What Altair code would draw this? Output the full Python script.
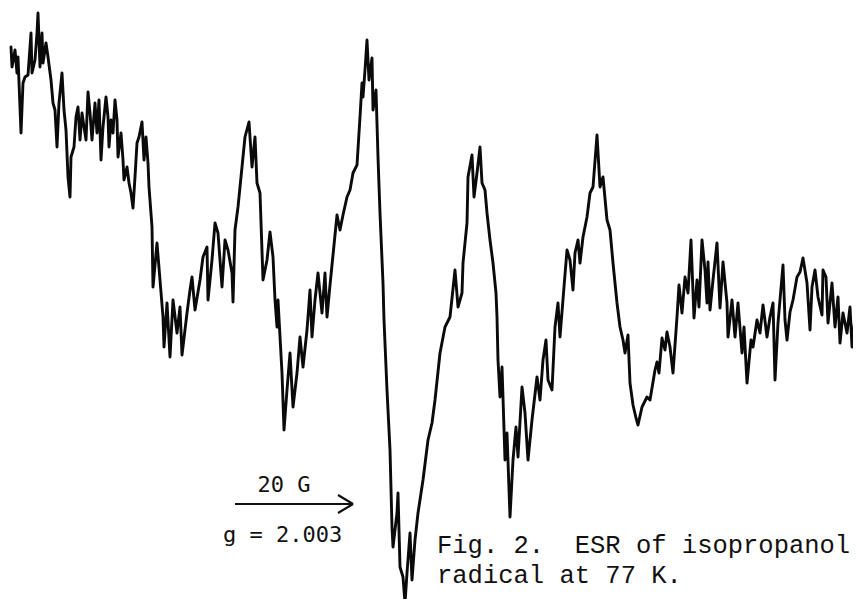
import altair as alt
import pandas as pd

# ESR trace (field position, signal level; picture units, y grows downward)
field = [11, 12, 15, 17, 18, 21, 23, 25, 28, 31, 32, 35, 37, 38, 40, 42, 43, 46, 48, 51,
         53, 55, 57, 59, 62, 64, 66, 68, 70, 71, 74, 76, 78, 80, 82, 84, 86, 88, 90, 92,
         95, 97, 99, 101, 103, 106, 108, 109, 111, 113, 115, 117, 118, 121, 123, 124, 127, 129, 131, 133,
         135, 137, 139, 142, 144, 146, 148, 149, 152, 153, 157, 160, 163, 164, 167, 170, 173, 177, 180, 182,
         187, 190, 192, 195, 200, 203, 207, 208, 212, 215, 218, 222, 225, 228, 232, 233, 235, 238, 242, 245,
         249, 252, 255, 257, 260, 263, 267, 270, 273, 275, 277, 278, 282, 284, 287, 290, 293, 297, 300, 303,
         307, 310, 312, 315, 318, 322, 325, 327, 330, 333, 337, 340, 343, 347, 350, 353, 357, 360, 362, 363,
         365, 367, 369, 372, 373, 376, 378, 380, 383, 384, 387, 390, 392, 393, 397, 398, 400, 403, 405, 407,
         410, 412, 415, 418, 423, 428, 432, 435, 440, 445, 450, 455, 458, 462, 463, 467, 468, 472, 474, 477,
         480, 482, 485, 487, 490, 493, 496, 497, 498, 500, 502, 505, 507, 510, 513, 516, 518, 522, 525, 528,
         532, 537, 540, 543, 546, 548, 552, 555, 558, 560, 564, 567, 570, 573, 575, 578, 580, 583, 587, 590,
         593, 597, 600, 603, 607, 610, 613, 617, 620, 623, 625, 628, 630, 633, 636, 638, 642, 647, 650, 655,
         657, 659, 662, 665, 667, 670, 673, 677, 679, 682, 685, 688, 691, 694, 697, 699, 702, 705, 707, 708,
         710, 713, 717, 720, 723, 727, 728, 732, 735, 738, 742, 744, 747, 751, 753, 757, 760, 763, 767, 770,
         773, 775, 778, 783, 785, 787, 790, 793, 797, 800, 803, 807, 810, 812, 815, 818, 822, 823, 826, 828,
         832, 835, 838, 840, 843, 847, 850, 852, 855, 858, 861]
signal = [47, 67, 50, 73, 57, 133, 83, 77, 75, 33, 73, 60, 33, 13, 67, 33, 63, 43, 57, 80,
          103, 110, 147, 103, 73, 110, 130, 177, 197, 157, 147, 117, 107, 140, 113, 127, 140, 92, 113, 140,
          103, 133, 100, 160, 127, 97, 117, 147, 120, 133, 100, 120, 157, 133, 160, 180, 167, 183, 193, 208,
          177, 143, 137, 122, 160, 137, 163, 187, 227, 287, 243, 280, 317, 347, 303, 357, 300, 333, 307, 355,
          313, 290, 277, 310, 280, 257, 247, 300, 260, 223, 233, 287, 240, 250, 273, 302, 230, 207, 167, 137,
          122, 167, 137, 183, 193, 280, 260, 232, 257, 300, 327, 300, 373, 430, 390, 353, 407, 373, 337, 367,
          330, 290, 337, 300, 273, 313, 273, 317, 285, 255, 215, 230, 215, 197, 190, 173, 165, 117, 83, 97,
          70, 40, 80, 58, 110, 90, 157, 213, 283, 320, 390, 450, 527, 547, 513, 493, 567, 577, 603, 573,
          533, 580, 540, 513, 480, 440, 423, 400, 353, 327, 317, 270, 307, 293, 263, 223, 177, 155, 197, 173,
          147, 183, 190, 213, 240, 263, 293, 317, 360, 397, 367, 460, 433, 517, 460, 427, 457, 387, 413, 460,
          420, 377, 400, 360, 340, 380, 390, 327, 303, 337, 287, 250, 260, 290, 253, 240, 263, 237, 217, 193,
          187, 135, 187, 177, 220, 230, 263, 303, 327, 340, 353, 335, 383, 405, 418, 425, 407, 397, 400, 370,
          362, 373, 338, 350, 332, 347, 373, 317, 285, 313, 277, 293, 240, 318, 280, 307, 240, 270, 303, 262,
          310, 280, 243, 308, 262, 303, 337, 300, 337, 303, 353, 327, 383, 340, 347, 320, 333, 305, 337, 317,
          303, 380, 323, 265, 320, 340, 312, 300, 277, 272, 258, 283, 330, 287, 270, 297, 315, 270, 277, 323,
          283, 327, 297, 343, 313, 333, 307, 347, 317, 310, 278]

# Scale bar (20 G arrow) and labels
arrow_x = [235, 338, 338]
arrow_y = [504, 495, 513]
arrow_x2 = [353, 353, 353]
arrow_y2 = [504, 504, 504]

label_text = ["20 G", "g = 2.003"]
label_x = [284, 223]
label_y = [492, 542]
label_align = ["center", "left"]

NB = "\u00a0"
caption_text = ["Fig." + NB + "2." + NB + NB + "ESR" + NB + "of" + NB + "isopropanol",
                "radical" + NB + "at" + NB + "77" + NB + "K."]
caption_x = [437, 437]
caption_y = [553, 583]

trace = pd.DataFrame({"field": field, "signal": signal, "i": list(range(len(field)))})
arrows = pd.DataFrame({"x": arrow_x, "y": arrow_y, "x2": arrow_x2, "y2": arrow_y2})
labels = pd.DataFrame({"x": label_x, "y": label_y, "t": label_text, "a": label_align})
captions = pd.DataFrame({"x": caption_x, "y": caption_y, "t": caption_text})

xs = alt.Scale(domain=[8, 853], nice=False, zero=False)
ys = alt.Scale(domain=[8, 599], nice=False, zero=False, reverse=True)

line = alt.Chart(trace).mark_line(
    color="#0a0a0a", strokeWidth=2.9, strokeJoin="round", strokeCap="round"
).encode(
    x=alt.X("field:Q", scale=xs, axis=None),
    y=alt.Y("signal:Q", scale=ys, axis=None),
    order=alt.Order("i:Q"),
)

arrow = alt.Chart(arrows).mark_rule(color="#111111", strokeWidth=2.2).encode(
    x=alt.X("x:Q", scale=xs, axis=None),
    y=alt.Y("y:Q", scale=ys, axis=None),
    x2="x2:Q",
    y2="y2:Q",
)

lab_center = alt.Chart(labels[labels["a"] == "center"]).mark_text(
    font="DejaVu Sans Mono", fontSize=22, color="#111111", align="center", baseline="alphabetic"
).encode(
    x=alt.X("x:Q", scale=xs, axis=None),
    y=alt.Y("y:Q", scale=ys, axis=None),
    text="t:N",
)

lab_left = alt.Chart(labels[labels["a"] == "left"]).mark_text(
    font="DejaVu Sans Mono", fontSize=22, color="#111111", align="left", baseline="alphabetic"
).encode(
    x=alt.X("x:Q", scale=xs, axis=None),
    y=alt.Y("y:Q", scale=ys, axis=None),
    text="t:N",
)

cap = alt.Chart(captions).mark_text(
    font="Liberation Mono", fontSize=25.5, color="#111111", align="left", baseline="alphabetic"
).encode(
    x=alt.X("x:Q", scale=xs, axis=None),
    y=alt.Y("y:Q", scale=ys, axis=None),
    text="t:N",
)

chart = alt.layer(line, arrow, lab_center, lab_left, cap).properties(
    width=845, height=591, padding=0, autosize=alt.AutoSizeParams(type="none"),
    background="white",
).configure_view(strokeWidth=0)

chart.save("out.html", embed_options={"renderer": "svg", "actions": False})
